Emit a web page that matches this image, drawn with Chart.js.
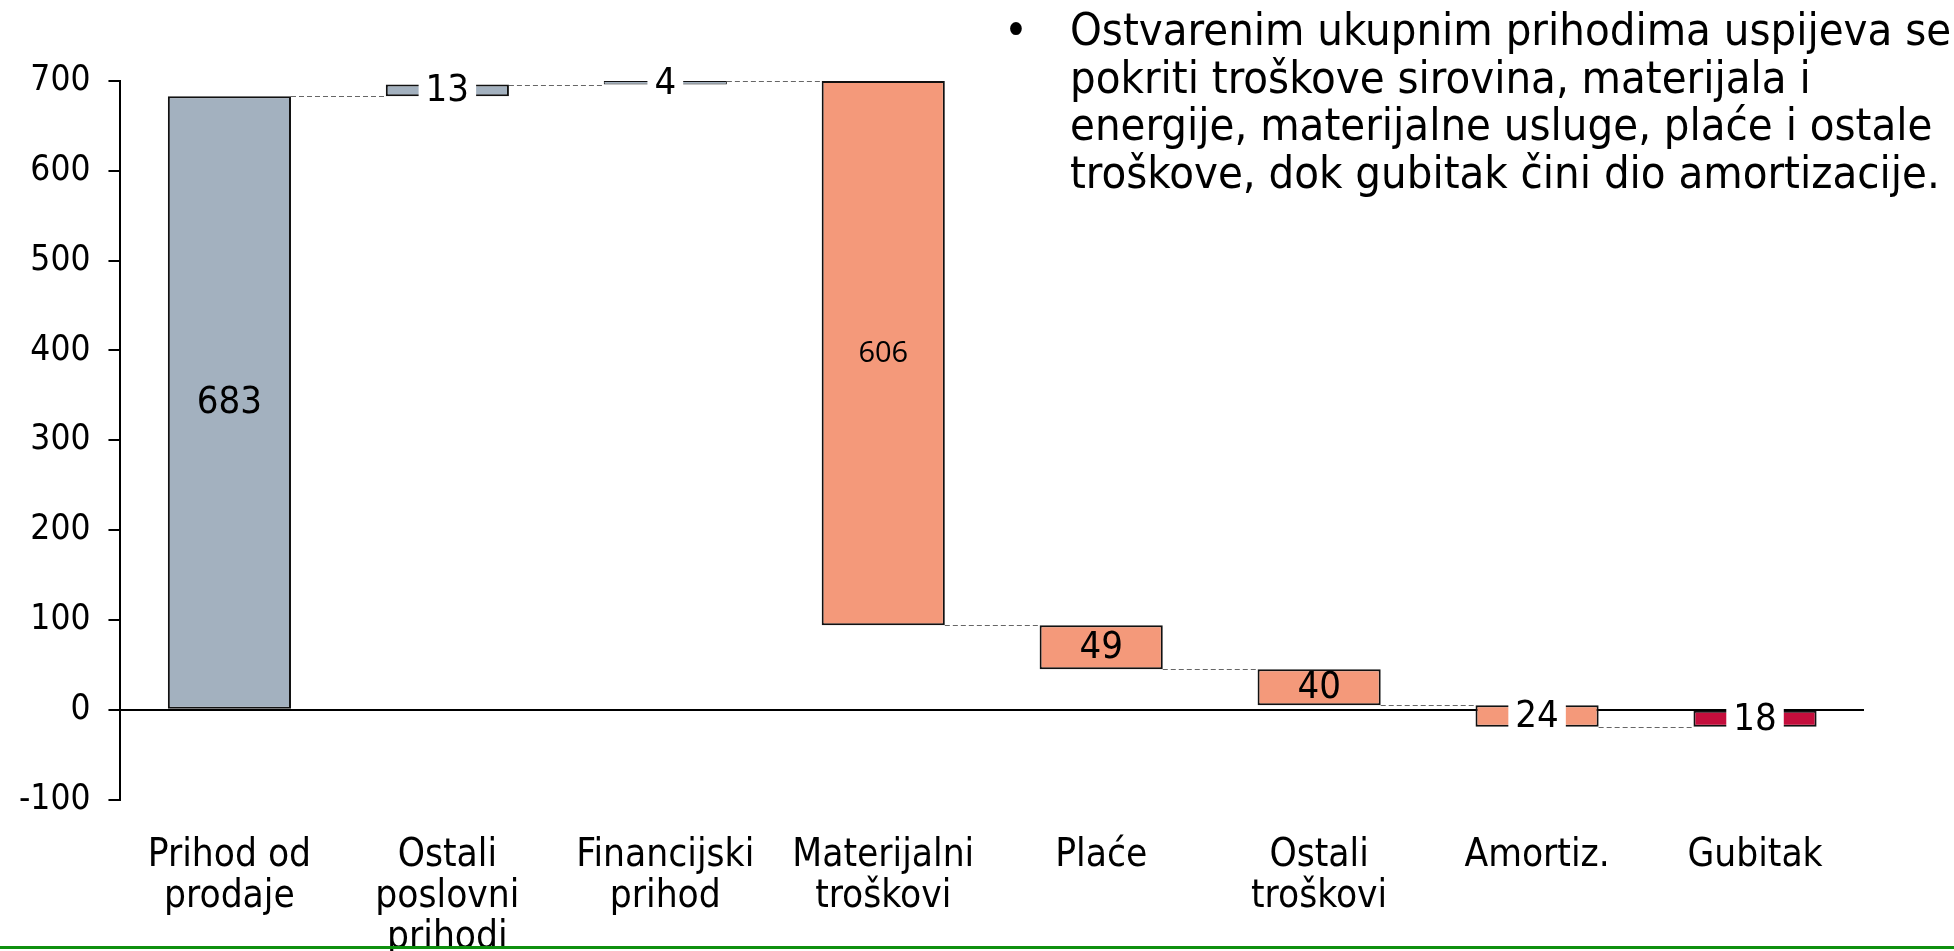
<!DOCTYPE html>
<html lang="hr">
<head>
<meta charset="utf-8">
<title>Prihodi i troškovi</title>
<script src="https://cdn.jsdelivr.net/npm/chart.js@4/dist/chart.umd.min.js"></script>
<style>
  html, body { margin: 0; padding: 0; background: #fff; overflow: hidden; }
  #okvir { position: relative; width: 1954px; height: 951px; overflow: hidden; }
  #graf { position: absolute; left: 0; top: 0; }
  #tekst {
    position: absolute; left: 1070px; top: 6px;
    font-family: "DejaVu Sans Condensed", "DejaVu Sans", sans-serif; font-size: 45px; line-height: 47.5px;
    color: #000; white-space: nowrap;
  }
  #tekst .tocka { position: absolute; left: -66px; top: 0; }
  #zelena { position: absolute; left: 0; top: 946px; width: 1954px; height: 3px; background: #0e900e; }
</style>
</head>
<body>
<div id="okvir">
  <canvas id="graf" width="1954" height="994"></canvas>
  <div id="tekst"><span class="tocka">•</span>Ostvarenim ukupnim prihodima uspijeva se<br>pokriti troškove sirovina, materijala i<br>energije, materijalne usluge, plaće i ostale<br>troškove, dok gubitak čini dio amortizacije.</div>
  <div id="zelena"></div>
</div>
<script>
const kategorije = [['Prihod od', 'prodaje'], ['Ostali', 'poslovni', 'prihodi'], ['Financijski', 'prihod'],
    ['Materijalni', 'troškovi'], 'Plaće', ['Ostali', 'troškovi'], 'Amortiz.', 'Gubitak']
// promjena po stavci (prihodi +, troškovi -, gubitak zatvara do nule)
const iznosi = [683, 13, 4, -606, -49, -40, -24, 18]
const vrste = ['prihod', 'prihod', 'prihod', 'trosak', 'trosak', 'trosak', 'trosak', 'gubitak']
const yMin = -100
const yMax = 700
const yKorak = 100

const boje = { prihod: '#a3b1bf', trosak: '#f4997a', gubitak: '#c40e3c' }
const font = '"DejaVu Sans Condensed", "DejaVu Sans", sans-serif'

// kumulativni početak i kraj svakog stupca
const pocetci = []
const krajevi = []
let tekuci = 0
iznosi.forEach(v => {
    pocetci.push(tekuci)
    tekuci += v
    krajevi.push(tekuci)
})
const stupci = iznosi.map((v, i) => [pocetci[i], krajevi[i]])

const oznakePlugin = {
    id: 'oznake',
    afterDatasetsDraw(chart) {
        const { ctx } = chart
        const y = chart.scales.y
        const meta = chart.getDatasetMeta(0)
        ctx.save()

        // isprekidane spojnice između stupaca
        ctx.strokeStyle = '#666'
        ctx.lineWidth = 1
        ctx.setLineDash([5, 3])
        meta.data.forEach((bar, i) => {
            const next = meta.data[i + 1]
            if (!next) return
            const yy = Math.round(y.getPixelForValue(krajevi[i])) + 0.5
            ctx.beginPath()
            ctx.moveTo(bar.x + bar.width / 2, yy)
            ctx.lineTo(next.x - next.width / 2, yy)
            ctx.stroke()
        })
        ctx.setLineDash([])

        // vrijednosti
        meta.data.forEach((bar, i) => {
            const tekst = String(Math.abs(iznosi[i]))
            const gore = Math.min(bar.y, bar.base)
            const dolje = Math.max(bar.y, bar.base)
            const sredina = (gore + dolje) / 2
            ctx.font = i === 3 ? '29px "Open Sans", sans-serif' : '38px ' + font
            const w = ctx.measureText(tekst).width
            if (dolje - gore < 30) {
                ctx.fillStyle = '#fff'
                ctx.fillRect(bar.x - w / 2 - 7, gore - 2, w + 14, dolje - gore + 4)
            }
            ctx.fillStyle = '#000'
            ctx.textAlign = 'center'
            ctx.textBaseline = 'middle'
            ctx.fillText(tekst, bar.x, sredina + 1)
        })
        ctx.restore()
    }
}

new Chart(document.getElementById('graf'), {
    type: 'bar',
    data: {
        labels: kategorije,
        datasets: [{
            data: stupci,
            backgroundColor: vrste.map(v => boje[v]),
            borderColor: '#111',
            borderWidth: c => Math.abs(iznosi[c.dataIndex]) < 10 ? 1 : 2,
            borderSkipped: false,
            categoryPercentage: 1,
            barPercentage: 0.565
        }]
    },
    options: {
        responsive: false,
        animation: false,
        devicePixelRatio: 1,
        layout: { padding: { top: 81, left: 1, right: 90, bottom: 0 } },
        plugins: {
            legend: { display: false },
            tooltip: { enabled: false }
        },
        scales: {
            x: {
                grid: { display: false, drawTicks: false },
                border: { display: false },
                ticks: {
                    color: '#000',
                    font: { family: font, size: 38.5, lineHeight: '40.8px' },
                    padding: 36,
                    maxRotation: 0,
                    autoSkip: false
                }
            },
            y: {
                min: yMin,
                max: yMax,
                ticks: {
                    stepSize: yKorak,
                    color: '#000',
                    font: { family: font, size: 35 },
                    padding: 18
                },
                grid: {
                    color: c => (c.tick && c.tick.value === 0) ? '#000' : 'rgba(0,0,0,0)',
                    tickColor: '#000',
                    lineWidth: 2,
                    tickLength: 12
                },
                border: { display: true, color: '#000', width: 2 }
            }
        }
    },
    plugins: [oznakePlugin]
})
</script>
</body>
</html>
